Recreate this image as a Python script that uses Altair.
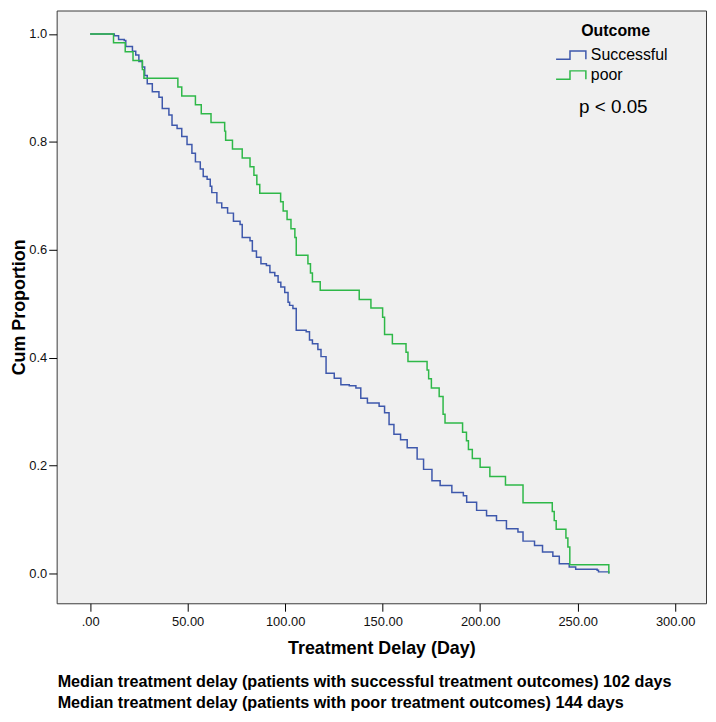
import altair as alt
import pandas as pd

# ---------------- data ----------------
series_names = ["Successful", "poor"]
series_colors = ["#3E58AC", "#2EB848"]

succ_day = [0, 12.4, 14.6, 17.5, 18.3, 21.7, 23.4, 25.0, 26.8, 28.0, 29.3, 31.9, 35.3,
            37.0, 40.4, 42.0, 44.6, 47.0, 49.7, 52.2, 54.0, 56.5, 58.0, 60.0, 61.6,
            62.4, 65.0, 67.5, 70.5, 73.5, 76.9, 78.0, 82.0, 83.2, 85.3, 87.6, 90.4,
            92.2, 94.7, 96.4, 97.8, 99.8, 101.5, 102.3, 104.0, 105.7, 110.8, 112.5,
            114.0, 116.8, 118.4, 121.0, 125.2, 128.6, 132.9, 136.3, 138.8, 142.2,
            148.2, 151.0, 153.3, 155.8, 159.2, 162.6, 167.7, 171.0, 175.3, 179.5,
            185.5, 191.4, 193.1, 198.2, 203.3, 208.4, 213.5, 219.4, 222.0, 227.9,
            232.0, 237.3, 240.6, 245.7, 249.0, 260.0, 260.7, 266.0]
succ_prop = [1.000, 0.997, 0.990, 0.988, 0.977, 0.968, 0.961, 0.949, 0.939, 0.923, 0.908,
             0.893, 0.883, 0.862, 0.850, 0.831, 0.825, 0.810, 0.795, 0.779, 0.763, 0.750,
             0.736, 0.731, 0.718, 0.706, 0.687, 0.678, 0.668, 0.653, 0.647, 0.623, 0.617,
             0.598, 0.586, 0.574, 0.571, 0.558, 0.552, 0.540, 0.531, 0.521, 0.503, 0.497,
             0.491, 0.451, 0.448, 0.433, 0.426, 0.415, 0.402, 0.371, 0.362, 0.350, 0.348,
             0.344, 0.325, 0.316, 0.310, 0.298, 0.276, 0.258, 0.248, 0.233, 0.212, 0.193,
             0.172, 0.163, 0.150, 0.144, 0.132, 0.117, 0.107, 0.098, 0.083, 0.077, 0.060,
             0.052, 0.040, 0.032, 0.018, 0.012, 0.008, 0.006, 0.003, 0.000]

poor_day = [0, 12, 18, 22, 26.8, 27.6, 45, 47, 54, 57, 62, 69, 69.5, 73, 78, 82, 84, 85.5,
            87, 97.7, 99, 101, 103, 105, 105.7, 111.7, 113, 114, 118, 138, 144, 150, 151,
            155, 162, 163, 172.8, 173.6, 175, 179, 181, 182, 191, 193, 194, 196, 200, 205,
            213, 222, 237, 238, 239, 244, 245, 246, 266]
poor_prop = [1.000, 0.984, 0.967, 0.951, 0.934, 0.918, 0.902, 0.885, 0.869, 0.852, 0.836,
             0.820, 0.803, 0.787, 0.770, 0.754, 0.738, 0.721, 0.705, 0.689, 0.672, 0.656,
             0.639, 0.623, 0.590, 0.574, 0.557, 0.541, 0.525, 0.508, 0.492, 0.475, 0.443,
             0.426, 0.410, 0.393, 0.377, 0.361, 0.344, 0.328, 0.295, 0.279, 0.262, 0.246,
             0.230, 0.213, 0.197, 0.180, 0.164, 0.131, 0.115, 0.098, 0.082, 0.066, 0.049,
             0.016, 0.000]

x_ticks = [0, 50, 100, 150, 200, 250, 300]
y_ticks = [0.0, 0.2, 0.4, 0.6, 0.8, 1.0]
x_title = "Treatment Delay (Day)"
y_title = "Cum Proportion"
legend_title = "Outcome"
p_text = "p < 0.05"
footnotes = [
    "Median treatment delay (patients with successful treatment outcomes) 102 days",
    "Median treatment delay (patients with poor treatment outcomes) 144 days",
]

# ---------------- build chart ----------------
FONT = "Liberation Sans"

df_succ = pd.DataFrame({"day": succ_day, "prop": succ_prop, "Outcome": series_names[0]})
df_poor = pd.DataFrame({"day": poor_day, "prop": poor_prop, "Outcome": series_names[1]})

x_enc = alt.X(
    "day:Q",
    scale=alt.Scale(domain=[-17.16, 315.84], nice=False, zero=False),
    axis=alt.Axis(
        values=x_ticks,
        labelExpr="datum.value == 0 ? '.00' : format(datum.value, '.2f')",
        title=x_title,
        labelPadding=4,
        titleY=37,
    ),
)
y_enc = alt.Y(
    "prop:Q",
    scale=alt.Scale(domain=[-0.0552, 1.0436], nice=False, zero=False),
    axis=alt.Axis(
        values=y_ticks,
        format=".1f",
        title=y_title,
        labelPadding=2,
        titleX=-28,
    ),
)
# step-shaped legend glyph, 30 px wide when drawn at size 100 (10 px unit box)
step_path = "M-3,0.84 L-0.2,0.84 L-0.2,-0.84 L3,-0.84 L3,0.84"
color_enc = alt.Color(
    "Outcome:N",
    scale=alt.Scale(domain=series_names, range=series_colors),
    sort=series_names,
    legend=alt.Legend(
        title=legend_title,
        orient="none",
        legendX=510,
        legendY=13,
        titleAnchor="middle",
        titleFontSize=16,
        titleFontWeight="bold",
        titleFont=FONT,
        titleColor="#000",
        titlePadding=8,
        labelFont=FONT,
        labelFontSize=16,
        labelColor="#000",
        labelOffset=12,
        symbolType=step_path,
        symbolSize=100,
        symbolStrokeWidth=1.5,
        symbolFillColor="transparent",
        rowPadding=4,
        padding=0,
    ),
)

line_succ = alt.Chart(df_succ).mark_line(interpolate="step-after", strokeWidth=1.5).encode(
    x=x_enc, y=y_enc, color=color_enc
)
line_poor = alt.Chart(df_poor).mark_line(interpolate="step-after", strokeWidth=1.5).encode(
    x=x_enc, y=y_enc, color=color_enc
)

p_layer = alt.Chart(pd.DataFrame({"t": [p_text]})).mark_text(
    align="left", baseline="middle", fontSize=19, font=FONT, color="#000"
).encode(x=alt.value(526), y=alt.value(97), text="t:N")

foot1 = alt.Chart(pd.DataFrame({"t": [footnotes[0]]})).mark_text(
    align="left", baseline="middle", fontSize=16.3, fontWeight="bold", font=FONT, color="#000"
).encode(x=alt.value(1), y=alt.value(676), text="t:N")
foot2 = alt.Chart(pd.DataFrame({"t": [footnotes[1]]})).mark_text(
    align="left", baseline="middle", fontSize=16.3, fontWeight="bold", font=FONT, color="#000"
).encode(x=alt.value(1), y=alt.value(697.5), text="t:N")

chart = (
    alt.layer(line_succ, line_poor, p_layer, foot1, foot2)
    .properties(
        width=654,
        height=597,
        autosize=alt.AutoSizeParams(type="none"),
        padding={"left": 49, "top": 0, "right": 2, "bottom": 109},
        background="white",
    )
    .configure_view(fill="#F0F0F0", stroke="#3A3A3A", strokeWidth=1)
    .configure_axis(
        labelFont=FONT,
        titleFont=FONT,
        labelFontSize=13,
        titleFontSize=18,
        titleFontWeight="bold",
        labelColor="#111",
        titleColor="#000",
        tickColor="#000",
        tickSize=8,
        tickWidth=1,
        domain=False,
        grid=False,
    )
)

chart.save("out.html", embed_options={"renderer": "svg", "actions": False})
